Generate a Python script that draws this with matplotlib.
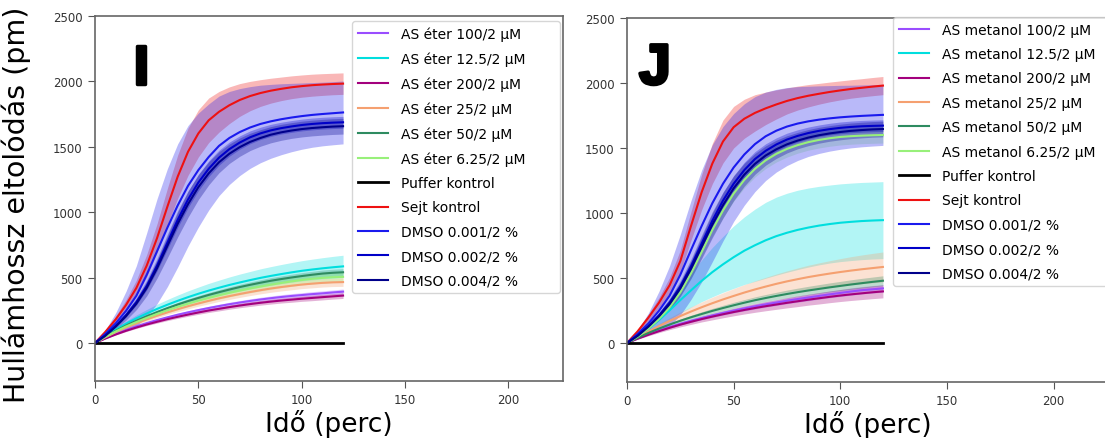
import matplotlib
matplotlib.use("Agg")
import matplotlib.pyplot as plt
import matplotlib.patheffects as pe
import numpy as np

# mérési időpontok (perc), 5 percenként
ido = [0, 5, 10, 15, 20, 25, 30, 35, 40, 45, 50, 55, 60, 65, 70, 75, 80, 85, 90, 95,
       100, 105, 110, 115, 120]

# közös kontroll
puffer = [0] * 25
puffer_sd = [0] * 25

# I panel: AS éter
eter_100 = [0, 37, 70, 100, 127, 152, 175, 196, 216, 234, 251, 267, 282, 296, 309, 321,
            332, 342, 351, 359, 366, 373, 379, 386, 392]
eter_100_sd = [0, 2, 4, 5, 6, 8, 9, 10, 11, 12, 13, 13, 14, 15, 15, 16, 17, 17, 18, 18,
               18, 19, 19, 19, 20]
eter_12_5 = [0, 55, 103, 147, 188, 225, 260, 292, 322, 350, 376, 400, 422, 443, 462, 480,
             497, 512, 526, 539, 551, 561, 570, 578, 585]
eter_12_5_sd = [0, 8, 14, 20, 26, 31, 36, 40, 44, 48, 51, 55, 58, 61, 64, 66, 69, 71, 73,
                75, 77, 79, 81, 83, 85]
eter_200 = [0, 34, 65, 93, 118, 141, 162, 182, 200, 217, 233, 248, 261, 274, 286, 297,
            307, 316, 324, 331, 338, 344, 350, 356, 362]
eter_200_sd = [0, 2, 4, 6, 7, 8, 10, 11, 12, 13, 14, 15, 16, 16, 17, 18, 18, 19, 19, 20,
               20, 21, 21, 21, 22]
eter_25 = [0, 44, 83, 118, 150, 180, 208, 234, 258, 281, 302, 322, 341, 358, 374, 389,
           403, 416, 427, 437, 446, 453, 459, 463, 465]
eter_25_sd = [0, 3, 6, 8, 11, 13, 15, 16, 18, 20, 21, 23, 24, 25, 26, 27, 28, 29, 30, 31,
              31, 32, 32, 32, 33]
eter_50 = [0, 50, 93, 133, 170, 204, 236, 266, 294, 320, 344, 367, 388, 408, 427, 444,
           460, 475, 488, 500, 511, 521, 530, 536, 540]
eter_50_sd = [0, 3, 5, 7, 9, 10, 12, 13, 15, 16, 17, 18, 19, 20, 21, 22, 23, 24, 24, 25,
              26, 26, 27, 27, 27]
eter_6_25 = [0, 47, 88, 126, 160, 192, 222, 250, 276, 300, 323, 344, 364, 383, 400, 416,
             431, 445, 458, 470, 481, 490, 497, 502, 505]
eter_6_25_sd = [0, 4, 7, 10, 13, 15, 18, 20, 22, 24, 26, 28, 29, 31, 32, 33, 34, 36, 37,
                38, 38, 39, 40, 40, 40]
sejt_i = [0, 85, 180, 290, 420, 590, 800, 1040, 1270, 1460, 1600, 1700, 1765, 1815, 1855,
          1885, 1908, 1926, 1940, 1952, 1961, 1968, 1973, 1977, 1980]
sejt_i_sd = [0, 12, 25, 40, 60, 85, 110, 140, 165, 180, 180, 170, 155, 140, 125, 112, 102,
             95, 90, 87, 85, 84, 83, 82, 82]
dmso1_i = [0, 70, 150, 245, 360, 520, 700, 880, 1050, 1200, 1320, 1420, 1505, 1565, 1610,
           1645, 1672, 1692, 1708, 1721, 1732, 1741, 1748, 1754, 1760]
dmso1_i_sd = [0, 30, 80, 150, 230, 320, 400, 450, 470, 460, 435, 405, 380, 355, 332, 312,
              296, 282, 271, 261, 253, 247, 243, 241, 240]
dmso2_i = [0, 58, 130, 213, 312, 435, 590, 765, 940, 1095, 1225, 1330, 1415, 1480, 1530,
           1570, 1600, 1623, 1640, 1653, 1664, 1672, 1678, 1682, 1685]
dmso2_i_sd = [0, 5, 10, 15, 22, 30, 40, 50, 58, 62, 62, 60, 57, 54, 51, 49, 47, 46, 45,
              45, 45, 45, 45, 45, 45]
dmso4_i = [0, 55, 125, 205, 300, 420, 570, 740, 910, 1060, 1190, 1295, 1380, 1445, 1495,
           1535, 1565, 1590, 1608, 1622, 1633, 1641, 1647, 1652, 1655]
dmso4_i_sd = [0, 8, 18, 30, 45, 60, 75, 90, 100, 100, 95, 88, 80, 74, 70, 66, 63, 62, 61,
              60, 60, 60, 60, 60, 60]

# J panel: AS metanol
met_100 = [0, 35, 67, 96, 123, 148, 171, 192, 212, 231, 249, 266, 282, 297, 311, 325,
           338, 350, 362, 374, 385, 396, 406, 413, 420]
met_100_sd = [0, 2, 5, 7, 9, 10, 12, 13, 15, 16, 17, 19, 20, 21, 22, 23, 24, 25, 25, 26,
              27, 28, 28, 29, 29]
met_12_5 = [0, 50, 110, 178, 252, 330, 405, 478, 545, 605, 660, 710, 752, 790, 822, 848,
            870, 888, 903, 915, 925, 932, 938, 942, 945]
met_12_5_sd = [0, 10, 25, 45, 70, 100, 130, 160, 190, 215, 240, 260, 278, 292, 300, 304,
               305, 304, 302, 300, 299, 298, 297, 296, 296]
met_200 = [0, 33, 63, 91, 117, 141, 163, 184, 203, 221, 238, 254, 269, 283, 296, 309,
           321, 333, 344, 355, 365, 374, 382, 390, 397]
met_200_sd = [0, 4, 8, 11, 14, 17, 20, 22, 25, 27, 29, 31, 33, 35, 37, 39, 41, 42, 44,
              45, 46, 47, 48, 49, 50]
met_25 = [0, 45, 88, 130, 170, 207, 242, 275, 306, 335, 362, 388, 412, 434, 455, 474,
          491, 507, 521, 534, 546, 557, 567, 576, 585]
met_25_sd = [0, 7, 13, 19, 25, 31, 36, 41, 46, 51, 56, 61, 66, 71, 76, 81, 86, 91, 95,
             99, 103, 107, 110, 113, 115]
met_50 = [0, 40, 77, 111, 142, 171, 198, 223, 247, 269, 290, 310, 329, 346, 362, 377,
          391, 404, 416, 428, 439, 450, 460, 470, 479]
met_50_sd = [0, 3, 6, 9, 11, 13, 15, 17, 19, 21, 23, 24, 26, 27, 28, 30, 31, 32, 33, 34,
             35, 36, 37, 37, 38]
met_6_25 = [0, 48, 110, 185, 275, 390, 535, 700, 870, 1020, 1150, 1255, 1340, 1405, 1455,
            1493, 1522, 1545, 1562, 1575, 1585, 1591, 1595, 1598, 1600]
met_6_25_sd = [0, 5, 10, 15, 20, 25, 32, 40, 48, 55, 60, 62, 63, 63, 63, 63, 62, 62, 62,
               62, 62, 62, 62, 62, 62]
sejt_j = [0, 90, 195, 310, 445, 630, 900, 1160, 1380, 1550, 1660, 1725, 1770, 1805, 1835,
          1862, 1884, 1902, 1917, 1931, 1943, 1954, 1963, 1972, 1980]
sejt_j_sd = [0, 12, 25, 40, 60, 85, 110, 135, 155, 165, 160, 150, 140, 125, 112, 100, 92,
             86, 80, 76, 73, 71, 70, 70, 70]
dmso1_j = [0, 70, 150, 248, 365, 525, 715, 900, 1075, 1225, 1350, 1450, 1530, 1590, 1633,
           1665, 1688, 1705, 1718, 1728, 1736, 1742, 1747, 1751, 1755]
dmso1_j_sd = [0, 30, 80, 150, 230, 310, 380, 430, 450, 440, 415, 390, 365, 340, 318, 300,
              284, 270, 260, 252, 246, 241, 238, 236, 235]
dmso2_j = [0, 58, 130, 213, 312, 435, 590, 765, 940, 1095, 1225, 1330, 1415, 1478, 1527,
           1565, 1593, 1615, 1632, 1645, 1655, 1662, 1667, 1670, 1672]
dmso2_j_sd = dmso2_i_sd
dmso4_j = [0, 55, 125, 205, 300, 420, 570, 740, 910, 1060, 1190, 1295, 1378, 1442, 1490,
           1528, 1557, 1580, 1598, 1612, 1623, 1632, 1638, 1643, 1646]
dmso4_j_sd = dmso4_i_sd

szinek = ['#9a4dff', '#00dede', '#a3007d', '#f5a070', '#2e8b60', '#98f07a',
          'black', '#ee1111', '#1a1aee', '#0000c8', '#00008b']
kontroll_nevek = ['Puffer kontrol', 'Sejt kontrol', 'DMSO 0.001/2 %',
                  'DMSO 0.002/2 %', 'DMSO 0.004/2 %']
koncentraciok = ['100/2 µM', '12.5/2 µM', '200/2 µM', '25/2 µM', '50/2 µM', '6.25/2 µM']

panel_i = [(eter_100, eter_100_sd), (eter_12_5, eter_12_5_sd), (eter_200, eter_200_sd),
           (eter_25, eter_25_sd), (eter_50, eter_50_sd), (eter_6_25, eter_6_25_sd),
           (puffer, puffer_sd), (sejt_i, sejt_i_sd), (dmso1_i, dmso1_i_sd),
           (dmso2_i, dmso2_i_sd), (dmso4_i, dmso4_i_sd)]
panel_j = [(met_100, met_100_sd), (met_12_5, met_12_5_sd), (met_200, met_200_sd),
           (met_25, met_25_sd), (met_50, met_50_sd), (met_6_25, met_6_25_sd),
           (puffer, puffer_sd), (sejt_j, sejt_j_sd), (dmso1_j, dmso1_j_sd),
           (dmso2_j, dmso2_j_sd), (dmso4_j, dmso4_j_sd)]

W, H = 1105, 439
fig = plt.figure(figsize=(W / 100, H / 100), dpi=100)


def rajzol_panel(ax, sorozatok, cimkek):
    t = np.array(ido)
    for (atlag, sd), szin, cimke in zip(sorozatok, szinek, cimkek):
        atlag = np.array(atlag, dtype=float)
        sd = np.array(sd, dtype=float)
        lw = 2.0 if szin == 'black' else 1.5
        ax.plot(t, atlag, color=szin, lw=lw, label=cimke)
        ax.fill_between(t, atlag - sd, atlag + sd, color=szin, alpha=0.3, lw=0)
    ax.set_ylim(-290, 2500)
    ax.set_xticks([0, 50, 100, 150, 200])
    ax.set_yticks([0, 500, 1000, 1500, 2000, 2500])
    ax.tick_params(labelsize=8.5, labelcolor='#333333', color='#555555', length=5, pad=4)
    for sp in ax.spines.values():
        sp.set_color('#666666')
        sp.set_linewidth(1.2)


def jelmagyarazat(ax, bal, fent, szel):
    ax.legend(loc='upper left', bbox_to_anchor=(bal / W, 0.3, szel / W, 1 - fent / H - 0.3),
              bbox_transform=fig.transFigure, mode='expand', fontsize=10,
              labelspacing=0.75, handlelength=2.2, handletextpad=0.9, borderaxespad=0)


# I panel
ax1 = fig.add_axes([95 / W, 1 - 382 / H, (563 - 95) / W, (382 - 16.5) / H])
rajzol_panel(ax1, panel_i, ['AS éter ' + k for k in koncentraciok] + kontroll_nevek)
ax1.set_xlim(0, 226.4)
ax1.set_ylabel('Hullámhossz eltolódás (pm)', fontsize=20.5)
ax1.yaxis.set_label_coords(-0.137, 0.486)
ax1.set_xlabel('Idő (perc)', fontsize=19, labelpad=2)
jelmagyarazat(ax1, 352, 22, 208)

# J panel
ax2 = fig.add_axes([627 / W, 1 - 383 / H, 482 / W, (383 - 19) / H])
rajzol_panel(ax2, panel_j, ['AS metanol ' + k for k in koncentraciok] + kontroll_nevek)
ax2.set_ylim(-300, 2500)
ax2.set_xlim(0, 226)
ax2.set_xlabel('Idő (perc)', fontsize=19, labelpad=2)
jelmagyarazat(ax2, 893, 18, 232)

# panel betűjelek
vastag = [pe.withStroke(linewidth=2.5, foreground='black')]
fig.text(141 / W, 1 - 85 / H, 'I', fontsize=40, fontweight='bold', family='Liberation Sans',
         ha='center', va='baseline', path_effects=vastag)
fig.text(655 / W, 1 - 85 / H, 'J', fontsize=41, fontweight='bold', family='Liberation Sans',
         ha='center', va='baseline', path_effects=vastag)

fig.savefig('out.png', dpi=100)
